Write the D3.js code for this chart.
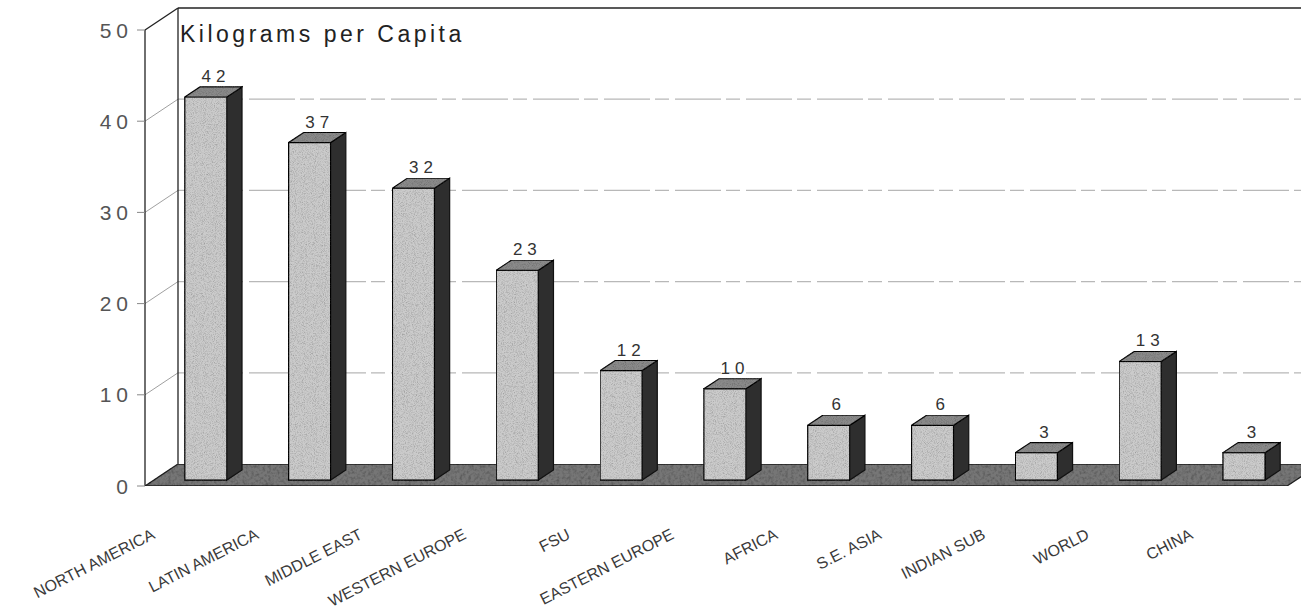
<!DOCTYPE html>
<html><head><meta charset="utf-8">
<script src="https://cdn.jsdelivr.net/npm/d3@7"></script>
<style>html,body{margin:0;padding:0;background:#fff;} svg{display:block;}</style>
</head><body><svg id="c" width="1301" height="616"></svg>
<script>
const categories = ["NORTH AMERICA","LATIN AMERICA","MIDDLE EAST","WESTERN EUROPE","FSU","EASTERN EUROPE","AFRICA","S.E. ASIA","INDIAN SUB","WORLD","CHINA"];
const values = [42,37,32,23,12,10,6,6,3,13,3];
const yTicks = [0,10,20,30,40,50];
const titleText = "Kilograms per Capita";

const W = 1301, H = 616;
const DX = 33, DY = -22;          // depth of the 3D box
const FRONT = 0.27, DEPTH = 0.46; // bar placement within the depth
const FONT = "Liberation Sans, Arial, sans-serif";
const svg = d3.select("#c");
const defs = svg.append("defs");
function grain(id, freq, a, b) {
  const f = defs.append("filter").attr("id",id).attr("x",0).attr("y",0).attr("width",1).attr("height",1);
  f.append("feTurbulence").attr("type","fractalNoise").attr("baseFrequency",freq).attr("numOctaves",2).attr("seed",4).attr("result","noise");
  f.append("feColorMatrix").attr("in","noise").attr("type","matrix")
    .attr("values",`0 0 0 0 0  0 0 0 0 0  0 0 0 0 0  ${a} 0 0 0 ${b}`).attr("result","dots");
  f.append("feComposite").attr("in","dots").attr("in2","SourceGraphic").attr("operator","in").attr("result","dotsIn");
  const m = f.append("feMerge");
  m.append("feMergeNode").attr("in","SourceGraphic");
  m.append("feMergeNode").attr("in","dotsIn");
}
grain("grain", 1.1, 0.9, -0.38);
grain("grainFloor", 0.35, 1.0, -0.42);

const x = d3.scaleBand().domain(categories).range([145,1287]).paddingInner(0.595).paddingOuter(0.2975);
const y = d3.scaleLinear().domain([0,50]).range([486,30]);
const x0 = x.range()[0], x1 = x.range()[1];

const g = svg.append("g");
g.append("polygon").attr("points",[[x0,y(50)],[x0+DX,y(50)+DY],[x1+DX,y(50)+DY],[x1+DX,y(0)+DY],[x0,y(0)]].join(" ")).attr("fill","#fff");
// gridlines
const grid = yTicks.filter(t => t>0 && t<50);
g.selectAll(".gs").data(grid).enter().append("line")
  .attr("x1",x0).attr("y1",d=>y(d)).attr("x2",x0+DX).attr("y2",d=>y(d)+DY)
  .attr("stroke","#a0a0a0").attr("stroke-width",1);
g.selectAll(".gb").data(grid).enter().append("line")
  .attr("x1",x0+DX).attr("y1",d=>y(d)+DY).attr("x2",x1+DX).attr("y2",d=>y(d)+DY)
  .attr("stroke","#b8b8b8").attr("stroke-width",1.2).attr("stroke-dasharray","46,5,14,6");
// wall edges
g.append("line").attr("x1",x0+DX).attr("y1",y(50)+DY).attr("x2",x0+DX).attr("y2",y(0)+DY).attr("stroke","#222").attr("stroke-width",1.3);
g.append("line").attr("x1",x0+DX).attr("y1",y(50)+DY).attr("x2",x1+DX).attr("y2",y(50)+DY).attr("stroke","#222").attr("stroke-width",1.5);
g.append("line").attr("x1",x0).attr("y1",y(50)).attr("x2",x0+DX).attr("y2",y(50)+DY).attr("stroke","#222").attr("stroke-width",1.3);
g.append("line").attr("x1",x0).attr("y1",y(50)).attr("x2",x0).attr("y2",y(0)).attr("stroke","#222").attr("stroke-width",1.3);

// ticks & labels
g.selectAll(".tk").data(yTicks).enter().append("line")
  .attr("x1",x0-8).attr("x2",x0).attr("y1",d=>y(d)).attr("y2",d=>y(d))
  .attr("stroke","#888").attr("stroke-width",1);
g.selectAll(".tl").data(yTicks).enter().append("text")
  .attr("x",x0-12).attr("y",d=>y(d)).attr("dy","0.36em")
  .attr("text-anchor","end").attr("font-family",FONT)
  .attr("font-size",21).attr("letter-spacing",5).attr("fill","#555").text(d=>d);

// title
g.append("text").attr("x",x0+DX+2).attr("y",42).attr("font-family",FONT)
  .attr("font-size",23).attr("letter-spacing",3.5).attr("fill","#222").text(titleText);

// floor
g.append("polygon").attr("points",[[x0,y(0)],[x0+DX,y(0)+DY],[x1+DX,y(0)+DY],[x1,y(0)]].join(" "))
  .attr("fill","#767676").attr("stroke","#222").attr("stroke-width",1.3).attr("filter","url(#grainFloor)");

// bars
const bw = x.bandwidth(), bdx = DX*DEPTH, bdy = DY*DEPTH;
const bars = g.selectAll(".bar").data(categories.map((c,i)=>({c, v: values[i]}))).enter().append("g");
bars.each(function(d){
  const s = d3.select(this);
  const bx = x(d.c) + DX*FRONT, b0 = y(0) + DY*FRONT, b1 = y(d.v) + DY*FRONT;
  s.append("polygon").attr("points",[[bx+bw,b1],[bx+bw+bdx,b1+bdy],[bx+bw+bdx,b0+bdy],[bx+bw,b0]].join(" "))
    .attr("fill","#2e2e2e").attr("stroke","#111").attr("stroke-width",1.2);
  s.append("polygon").attr("points",[[bx,b1],[bx+bdx,b1+bdy],[bx+bw+bdx,b1+bdy],[bx+bw,b1]].join(" "))
    .attr("fill","#8a8a8a").attr("stroke","#111").attr("stroke-width",1.2).attr("filter","url(#grain)");
  s.append("rect").attr("x",bx).attr("y",b1).attr("width",bw).attr("height",b0-b1)
    .attr("fill","#cbcbcb").attr("stroke","#111").attr("stroke-width",1.3).attr("filter","url(#grain)");
  s.append("text").attr("x",bx+bw/2+bdx/2+2.5).attr("y",b1+bdy-5).attr("text-anchor","middle")
    .attr("font-family",FONT).attr("font-size",17).attr("letter-spacing",5)
    .attr("fill","#333").text(d.v);
});

// category labels
g.selectAll(".cl").data(categories).enter().append("text")
  .attr("transform",d=>`translate(${x(d)+bw/2-41},${y(0)+52}) rotate(-27)`)
  .attr("text-anchor","end").attr("font-family",FONT)
  .attr("font-size",16).attr("fill","#3a3a3a").text(d=>d);
</script></body></html>
